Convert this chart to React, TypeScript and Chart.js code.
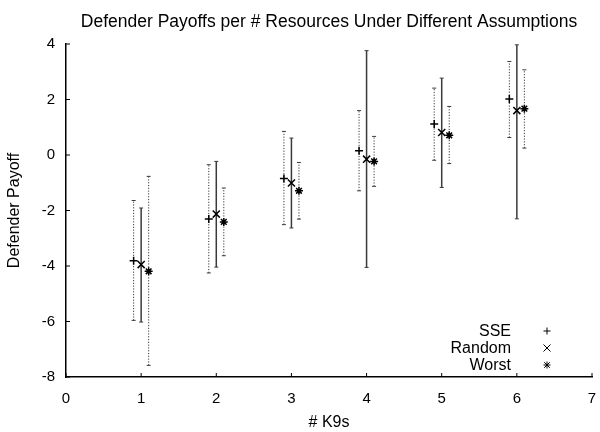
import { useEffect, useRef } from 'react';
import { Chart, registerables } from 'chart.js';

Chart.register(...registerables);

// values
const k9Counts = [1, 2, 3, 4, 5, 6];
const seriesNames = ['SSE', 'Random', 'Worst'];

const sseMean = [-3.81, -2.31, -0.85, 0.15, 1.12, 2.02];
const sseLow = [-5.96, -4.25, -2.51, -1.29, -0.19, 0.63];
const sseHigh = [-1.64, -0.35, 0.85, 1.6, 2.41, 3.37];

const randomMean = [-3.95, -2.13, -1.01, -0.15, 0.81, 1.6];
const randomLow = [-6.02, -4.04, -2.63, -4.05, -1.17, -2.3];
const randomHigh = [-1.91, -0.23, 0.61, 3.76, 2.77, 3.97];

const worstMean = [-4.19, -2.41, -1.29, -0.23, 0.71, 1.67];
const worstLow = [-7.58, -3.63, -2.31, -1.13, -0.31, 0.25];
const worstHigh = [-0.77, -1.19, -0.27, 0.67, 1.75, 3.07];

const xTicks = [0, 1, 2, 3, 4, 5, 6, 7];
const yTicks = [-8, -6, -4, -2, 0, 2, 4];

const chartTitle = 'Defender Payoffs per # Resources Under Different Assumptions';

const FONT = '"Liberation Sans", Arial, Helvetica, sans-serif';

const errors = [
  { low: sseLow, high: sseHigh, dotted: true },
  { low: randomLow, high: randomHigh, dotted: false },
  { low: worstLow, high: worstHigh, dotted: true },
];

function line(ctx: CanvasRenderingContext2D, x1: number, y1: number, x2: number, y2: number) {
  ctx.beginPath();
  ctx.moveTo(x1, y1);
  ctx.lineTo(x2, y2);
  ctx.stroke();
}

function drawMarker(ctx: CanvasRenderingContext2D, kind: string, x: number, y: number, r: number) {
  if (kind === 'cross' || kind === 'star') {
    line(ctx, x - r, y, x + r, y);
    line(ctx, x, y - r, x, y + r);
  }
  if (kind === 'crossRot' || kind === 'star') {
    const d = kind === 'star' ? r * 0.8 : r;
    line(ctx, x - d, y - d, x + d, y + d);
    line(ctx, x - d, y + d, x + d, y - d);
  }
}

const markerKinds = ['cross', 'crossRot', 'star'];

const errorBarPlugin = {
  id: 'errorBars',
  beforeDatasetsDraw(chart: any) {
    const { ctx, scales } = chart;
    ctx.save();
    errors.forEach((err, di) => {
      const meta = chart.getDatasetMeta(di);
      meta.data.forEach((pt: any, i: number) => {
        const x = pt.x;
        const yLo = scales.y.getPixelForValue(err.low[i]);
        const yHi = scales.y.getPixelForValue(err.high[i]);
        ctx.strokeStyle = '#3a3a3a';
        if (err.dotted) {
          ctx.lineWidth = 1;
          ctx.setLineDash([1.2, 1.6]);
        } else {
          ctx.lineWidth = 1.5;
          ctx.setLineDash([]);
        }
        line(ctx, x, yLo, x, yHi);
        ctx.setLineDash([]);
        ctx.lineWidth = 1;
        line(ctx, x - 2, yLo, x + 2, yLo);
        line(ctx, x - 2, yHi, x + 2, yHi);
      });
    });
    ctx.restore();
  },
};

const axisTickPlugin = {
  id: 'innerTicks',
  afterDraw(chart: any) {
    const { ctx, chartArea, scales } = chart;
    ctx.save();
    ctx.strokeStyle = '#000';
    ctx.lineWidth = 1;
    yTicks.forEach((v) => {
      const py = scales.y.getPixelForValue(v);
      line(ctx, chartArea.left, py, chartArea.left + 4, py);
    });
    xTicks.forEach((v) => {
      const px = scales.x.getPixelForValue(v);
      line(ctx, px, chartArea.bottom, px, chartArea.bottom - 4);
    });
    ctx.restore();
  },
};

// title centred over the plot area, as gnuplot does
const plotTitlePlugin = {
  id: 'plotTitle',
  afterDraw(chart: any) {
    const { ctx, chartArea } = chart;
    ctx.save();
    ctx.font = '17.5px ' + FONT;
    ctx.fillStyle = '#000';
    ctx.textAlign = 'center';
    ctx.textBaseline = 'alphabetic';
    ctx.fillText(chartTitle, (chartArea.left + chartArea.right) / 2, 26.5);
    ctx.restore();
  },
};

const cornerLegendPlugin = {
  id: 'cornerLegend',
  afterDraw(chart: any) {
    const { ctx, chartArea } = chart;
    ctx.save();
    ctx.font = '16px ' + FONT;
    ctx.fillStyle = '#000';
    ctx.strokeStyle = '#000';
    ctx.lineWidth = 1;
    ctx.textAlign = 'right';
    ctx.textBaseline = 'middle';
    seriesNames.forEach((name, i) => {
      const y = chartArea.bottom - 46 + i * 17;
      ctx.fillText(name, chartArea.right - 81, y + 1);
      drawMarker(ctx, markerKinds[i], chartArea.right - 45, y, 3.5);
    });
    ctx.restore();
  },
};

export default function App() {
  const chartRef = useRef<HTMLCanvasElement>(null);
  const chartInstance = useRef<Chart | null>(null);

  useEffect(() => {
    if (!chartRef.current) return;
    const ctx = chartRef.current.getContext('2d');
    if (!ctx) return;
    if (chartInstance.current) chartInstance.current.destroy();

    Chart.defaults.font.family = FONT;
    Chart.defaults.color = '#000';

    const means = [sseMean, randomMean, worstMean];
    const offsets = [-0.1, 0, 0.1];
    const radii = [4, 5, 4];

    chartInstance.current = new Chart(ctx, {
      type: 'scatter',
      data: {
        datasets: seriesNames.map((name, s) => ({
          label: name,
          data: k9Counts.map((k, i) => ({ x: k + offsets[s], y: means[s][i] })),
          pointStyle: markerKinds[s] as any,
          pointRadius: radii[s],
          pointHoverRadius: radii[s],
          pointBorderColor: '#000',
          pointBackgroundColor: 'transparent',
          pointBorderWidth: 1.5,
          showLine: false,
        })),
      },
      options: {
        animation: false,
        responsive: false,
        events: [],
        layout: { padding: { left: 0, right: 8, top: 44, bottom: 0 } },
        plugins: {
          legend: { display: false },
          tooltip: { enabled: false },
          title: { display: false },
        },
        scales: {
          x: {
            type: 'linear',
            min: xTicks[0],
            max: xTicks[xTicks.length - 1],
            afterFit: (s: any) => {
              s.height = 55;
              s.paddingLeft = 0;
              s.paddingRight = 0;
            },
            grid: { display: false, drawTicks: false },
            border: { display: true, color: '#000', width: 1.5 },
            ticks: { stepSize: 1, padding: 13, color: '#000', font: { size: 15 } },
            title: {
              display: true,
              text: '# K9s',
              color: '#000',
              font: { size: 16 },
              padding: { top: 0, bottom: -0.5 },
            },
          },
          y: {
            type: 'linear',
            min: yTicks[0],
            max: yTicks[yTicks.length - 1],
            afterFit: (s: any) => {
              s.width = 66;
              s.paddingTop = 0;
              s.paddingBottom = 0;
            },
            grid: { display: false, drawTicks: false },
            border: { display: true, color: '#000', width: 1.5 },
            ticks: { stepSize: 2, padding: 11, color: '#000', font: { size: 15 } },
            title: {
              display: true,
              text: 'Defender Payoff',
              color: '#000',
              font: { size: 16 },
              padding: { top: 5, bottom: 0 },
            },
          },
        },
      },
      plugins: [errorBarPlugin, axisTickPlugin, plotTitlePlugin, cornerLegendPlugin],
    });

    return () => {
      if (chartInstance.current) {
        chartInstance.current.destroy();
        chartInstance.current = null;
      }
    };
  }, []);

  return (
    <div style={{ position: 'absolute', left: 0, top: 0, width: 600, height: 432, background: '#fff' }}>
      <canvas ref={chartRef} width={600} height={432} />
    </div>
  );
}
